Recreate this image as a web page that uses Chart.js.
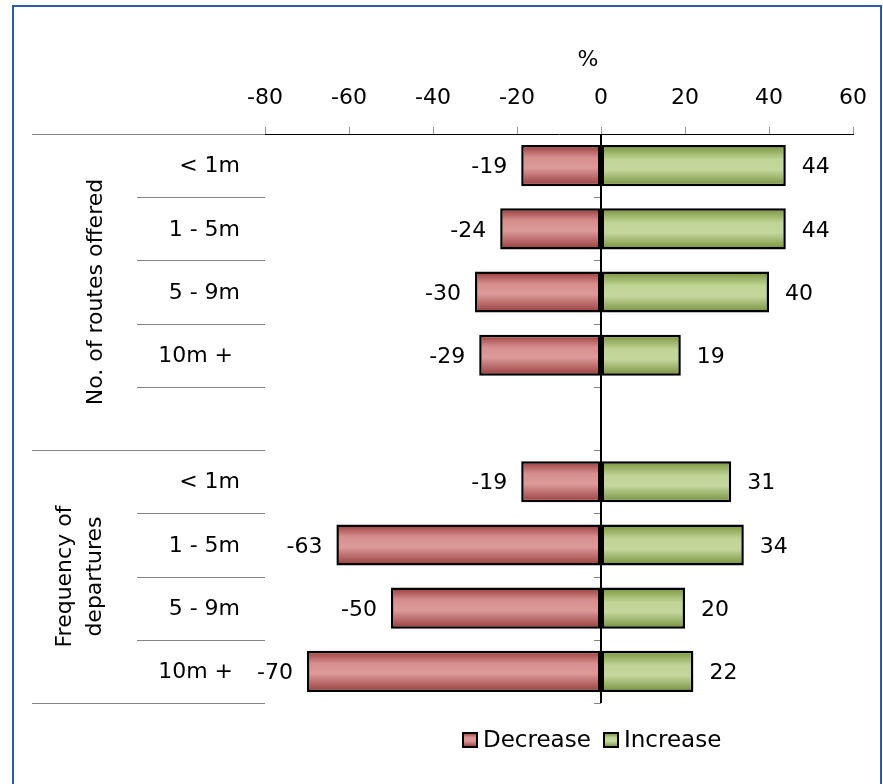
<!DOCTYPE html>
<html>
<head>
<meta charset="utf-8">
<script src="https://cdn.jsdelivr.net/npm/chart.js@4.4.1/dist/chart.umd.min.js"></script>
<style>
  html, body { margin: 0; padding: 0; background: #fff; }
  #wrap { position: relative; width: 883px; height: 784px; }
  #frame { position: absolute; left: 12px; top: 5px; width: 870px; height: 800px; border: 2px solid #2a5caa; box-sizing: border-box; pointer-events: none; }
</style>
</head>
<body>
<div id="wrap">
  <canvas id="chart" width="883" height="784"></canvas>
  <div id="frame"></div>
</div>
<script>
const rowLabels = ["< 1m", "1 - 5m", "5 - 9m", "10m + ", "", "< 1m", "1 - 5m", "5 - 9m", "10m + "];
const decrease = [-19, -24, -30, -29, null, -19, -63, -50, -70];
const increase = [44, 44, 40, 19, null, 31, 34, 20, 22];
const groups = [
  { lines: ["No. of routes offered"], from: 0, to: 4 },
  { lines: ["Frequency of", "departures"], from: 5, to: 8 }
];
const xTicks = [-80, -60, -40, -20, 0, 20, 40, 60];
const seriesNames = ["Decrease", "Increase"];
const axisTitle = "%";

const FONT = "'DejaVu Sans', sans-serif";
const FS = 22;
const redStops = [[0, "#953a3a"], [0.3, "#d68e8d"], [0.55, "#dc9b9a"], [1, "#963c3c"]];
const greenStops = [[0, "#76923a"], [0.35, "#bfd495"], [0.6, "#c4d79d"], [1, "#74903a"]];

function grad(ctx, y0, y1, stops) {
  const g = ctx.createLinearGradient(0, y0, 0, y1);
  stops.forEach(s => g.addColorStop(s[0], s[1]));
  return g;
}

const extras = {
  id: "extras",
  beforeDatasetsDraw(chart) {
    const ctx = chart.ctx;
    chart.data.datasets.forEach((ds, di) => {
      const stops = di === 0 ? redStops : greenStops;
      chart.getDatasetMeta(di).data.forEach(el => {
        const h = el.height;
        el.options.backgroundColor = grad(ctx, el.y - h / 2, el.y + h / 2, stops);
      });
    });
  },
  afterDraw(chart) {
    const ctx = chart.ctx;
    const a = chart.chartArea;
    const y = chart.scales.y;
    const x = chart.scales.x;
    const n = rowLabels.length;
    const step = (a.bottom - a.top) / n;
    const x0 = x.getPixelForValue(0);
    ctx.save();
    // left separators
    ctx.strokeStyle = "#858585";
    ctx.lineWidth = 1;
    for (let i = 0; i <= n; i++) {
      const yy = Math.round(a.top + i * step) + 0.5;
      const groupEdge = i === 0 || i === 5 || i === n;
      ctx.beginPath();
      ctx.moveTo(groupEdge ? 32 : 137, yy);
      ctx.lineTo(a.left, yy);
      ctx.stroke();
      if (i > 0) {
        ctx.beginPath();
        ctx.moveTo(x0 - 7, yy);
        ctx.lineTo(x0, yy);
        ctx.stroke();
      }
    }
    // zero line
    ctx.strokeStyle = "#000";
    ctx.lineWidth = 2;
    ctx.beginPath();
    ctx.moveTo(x0, a.top);
    ctx.lineTo(x0, a.bottom);
    ctx.stroke();
    // axis title
    ctx.fillStyle = "#000";
    ctx.font = FS + "px " + FONT;
    ctx.textBaseline = "middle";
    ctx.textAlign = "center";
    ctx.fillText(axisTitle, 588, 60);
    // row labels
    ctx.textAlign = "right";
    rowLabels.forEach((l, i) => {
      if (l) ctx.fillText(l, 240, y.getPixelForValue(i) + 1);
    });
    // group labels
    groups.forEach(g => {
      const cy = (y.getPixelForValue(g.from) + y.getPixelForValue(g.to)) / 2;
      const lh = 30;
      ctx.save();
      ctx.translate(g.lines.length === 1 ? 96 : 80, cy);
      ctx.rotate(-Math.PI / 2);
      ctx.textAlign = "center";
      g.lines.forEach((t, k) => {
        ctx.fillText(t, 0, (k - (g.lines.length - 1) / 2) * lh);
      });
      ctx.restore();
    });
    // value labels
    chart.data.datasets.forEach((ds, di) => {
      chart.getDatasetMeta(di).data.forEach((el, i) => {
        const v = ds.data[i];
        if (v == null) return;
        if (v < 0) {
          ctx.textAlign = "right";
          ctx.fillText(String(v), el.x - 14, el.y + 2);
        } else {
          ctx.textAlign = "left";
          ctx.fillText(String(v), el.x + 16, el.y + 2);
        }
      });
    });
    // legend
    const ly = 740;
    const items = [
      { name: seriesNames[0], stops: redStops, bx: 463 },
      { name: seriesNames[1], stops: greenStops, bx: 604 }
    ];
    ctx.font = "23px " + FONT;
    ctx.textAlign = "left";
    items.forEach(it => {
      ctx.fillStyle = grad(ctx, ly - 7, ly + 7, it.stops);
      ctx.fillRect(it.bx, ly - 7, 14, 14);
      ctx.strokeStyle = "#000";
      ctx.lineWidth = 2;
      ctx.strokeRect(it.bx, ly - 7, 14, 14);
      ctx.fillStyle = "#000";
      ctx.fillText(it.name, it.bx + 20, ly + 1);
    });
    ctx.restore();
  }
};

new Chart(document.getElementById("chart"), {
  type: "bar",
  data: {
    labels: rowLabels,
    datasets: [
      { label: seriesNames[0], data: decrease, backgroundColor: c => "#d99594", borderColor: "#000", borderWidth: 2.5, borderSkipped: false },
      { label: seriesNames[1], data: increase, backgroundColor: c => "#c3d69b", borderColor: "#000", borderWidth: 2.5, borderSkipped: false }
    ]
  },
  plugins: [extras],
  options: {
    indexAxis: "y",
    responsive: false,
    animation: false,
    events: [],
    layout: { padding: { left: 0, right: 30, top: 48, bottom: 81 } },
    datasets: { bar: { categoryPercentage: 1, barPercentage: 0.65 } },
    plugins: { legend: { display: false }, tooltip: { enabled: false } },
    scales: {
      x: {
        position: "top",
        stacked: true,
        min: -80,
        max: 60,
        afterBuildTicks: s => { s.ticks = xTicks.map(v => ({ value: v })); },
        afterFit: s => { s.height = 86; },
        grid: { drawOnChartArea: false, drawTicks: true, tickLength: 7, color: "#9a9a9a" },
        border: { display: true, color: "#000", width: 1 },
        ticks: { color: "#000", padding: 16, font: { family: FONT, size: FS } }
      },
      y: {
        stacked: true,
        offset: true,
        afterFit: s => { s.width = 265; },
        grid: { display: false },
        border: { display: false },
        ticks: { display: false }
      }
    }
  }
});
</script>
</body>
</html>
